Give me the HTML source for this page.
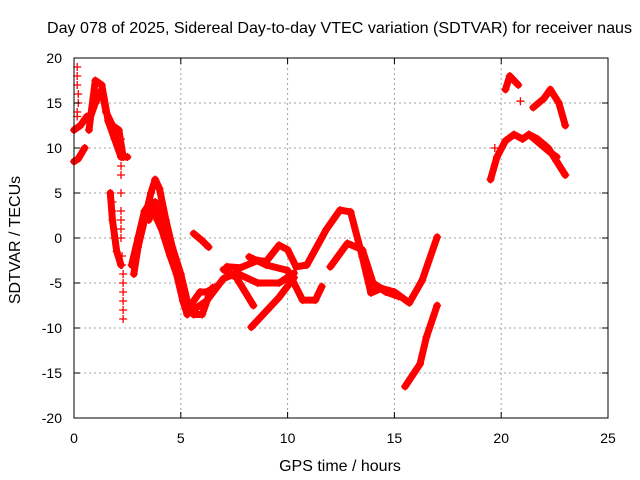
<!DOCTYPE html>
<html><head><meta charset="utf-8"><style>
body{margin:0;background:#fff;}
svg{display:block;font-family:"Liberation Sans",sans-serif;}
</style></head><body>
<svg id="c" width="640" height="480">
<rect width="640" height="480" fill="#fff"/>
<g id="grid"></g>
<g id="marks"></g>
<rect x="74" y="58" width="534" height="360" fill="none" stroke="#000" stroke-width="1"/>
<g id="ticks"></g>
<text x="47" y="33" font-size="16" textLength="585" lengthAdjust="spacingAndGlyphs">Day 078 of 2025, Sidereal Day-to-day VTEC variation (SDTVAR) for receiver naus</text>
<text x="340" y="471" font-size="16" text-anchor="middle">GPS time / hours</text>
<text transform="translate(20,240) rotate(-90)" font-size="16" text-anchor="middle">SDTVAR / TECUs</text>
</svg>
<script>
const xTicks=[0,5,10,15,20,25];
const yTicks=[-20,-15,-10,-5,0,5,10,15,20];
const track1=[[0,8.5],[0.2,8.8],[0.5,10]];
const track2=[[0,12],[0.3,12.5],[0.6,13.5]];
const track3=[[0.7,12],[1.0,17.5],[1.3,17],[1.6,13],[1.9,11],[2.2,9],[2.5,9]];
const track4=[[0.7,13],[1.0,15],[1.3,16.5],[1.5,14],[1.8,12.5],[2.1,12],[2.3,9]];
const track5=[[1.7,5],[1.8,2],[2.0,-1.5],[2.2,-3]];
const track6=[[2.8,-4],[3.0,-1],[3.3,2],[3.6,5],[3.8,6.5],[4.0,5.5],[4.3,2],[4.6,-1],[5.0,-4],[5.3,-7],[5.6,-8.5],[6.0,-8.5],[6.3,-6.5],[6.5,-5.5]];
const track7=[[3.5,2],[3.8,4],[4.1,1],[4.5,-2],[4.8,-4],[5.1,-7],[5.3,-8.5],[5.6,-7],[5.9,-6],[6.2,-6],[6.6,-5.5]];
const track8=[[2.7,-3],[3.0,0],[3.3,3],[3.6,4],[3.9,2],[4.3,0],[4.7,-3]];
const track9=[[5.6,0.5],[6.0,-0.3],[6.3,-1]];
const track10=[[7.16,-3.2],[7.8,-3.3],[8.6,-2.5],[9.0,-2.6],[9.6,-0.8],[10.0,-1.3],[10.4,-3.2],[10.9,-3],[11.8,0.9],[12.45,3.1],[12.95,2.9],[13.5,-2.1],[13.9,-6.1],[14.4,-5.6],[15.0,-6],[15.7,-7.2],[16.3,-4.7],[17,0.1]];
const track11=[[8.2,-2.1],[9.0,-3],[10,-3.6],[10.7,-6.9],[11.3,-6.9],[11.6,-5.4]];
const track12=[[5.4,-8.3],[6.2,-7],[7.0,-4.5],[7.6,-3.9],[8.6,-5],[9.6,-5],[10.3,-3.9]];
const track13=[[7.0,-3.5],[7.6,-4.4],[8.4,-7.5]];
const track14=[[8.3,-9.9],[9.6,-6.6],[10.3,-4.4]];
const track15=[[12,-3.2],[12.8,-0.6],[13.5,-1.3],[14,-5],[14.6,-6],[15.2,-6.5]];
const track16=[[15.5,-16.5],[16.2,-14],[16.5,-11],[17,-7.5]];
const track17=[[19.5,6.5],[19.8,9],[20.2,10.8],[20.6,11.5],[21,11],[21.3,11.5],[21.7,11],[22.2,10],[22.6,8.5],[23,7]];
const track18=[[20.2,16.5],[20.4,18],[20.8,17]];
const track19=[[21.5,14.5],[22,15.5],[22.3,16.5],[22.7,15],[23,12.5]];
const track20=[[21.3,11.5],[21.8,10.5],[22.3,9.5],[22.6,9]];
const sparse=[[0.15,19],[0.15,18],[0.15,17],[0.2,16],[0.2,15],[0.15,14],[0.15,13.5],[2.2,11],[2.2,8],[2.2,7],[2.2,5],[2.2,3],[2.2,2],[2.2,1],[2.2,0],[2.25,-2],[2.25,-3],[2.3,-4],[2.3,-5],[2.3,-6],[2.3,-7],[2.3,-8],[2.3,-9],[1.8,4],[1.8,3],[1.9,0],[20.9,15.2],[19.7,10]];
const tracks=[track1,track2,track3,track4,track5,track6,track7,track8,track9,track10,track11,track12,track13,track14,track15,track16,track17,track18,track19,track20];
const NS="http://www.w3.org/2000/svg";
function sx(h){return 74+(h-0)*534/25;}
function sy(v){return 238-v*9;}
function mk(tag,attrs,parent){const e=document.createElementNS(NS,tag);for(const k in attrs)e.setAttribute(k,attrs[k]);parent.appendChild(e);return e;}
const grid=document.getElementById('grid'),ticks=document.getElementById('ticks'),marks=document.getElementById('marks');
xTicks.forEach(t=>{const x=sx(t);
 if(t>0&&t<25){const g=mk('line',{x1:x,y1:58,x2:x,y2:418,stroke:'#a0a0a0','stroke-dasharray':'2,3'},grid);}
 const l=mk('text',{x:x,y:443,'font-size':14,'text-anchor':'middle'},ticks);l.textContent=t;
 
 
 mk('line',{x1:x,y1:418,x2:x,y2:412,stroke:'#000'},ticks);mk('line',{x1:x,y1:58,x2:x,y2:64,stroke:'#000'},ticks);});
yTicks.forEach(t=>{const y=sy(t);
 if(t>-20&&t<20){const g=mk('line',{x1:74,y1:y,x2:608,y2:y,stroke:'#a0a0a0','stroke-dasharray':'2,3'},grid);}
 const l=mk('text',{x:62,y:y+5,'font-size':14,'text-anchor':'end'},ticks);l.textContent=t;
 
 
 mk('line',{x1:74,y1:y,x2:80,y2:y,stroke:'#000'},ticks);mk('line',{x1:608,y1:y,x2:602,y2:y,stroke:'#000'},ticks);});
function plus(h,v){const x=sx(h),y=sy(v);
 const p=mk('path',{d:`M${x-4},${y}H${x+4}M${x},${y-4}V${y+4}`,stroke:'#f00','stroke-width':1.3},marks);
 
 }
tracks.forEach(tr=>{
 const pl=mk('polyline',{points:tr.map(p=>sx(p[0])+','+sy(p[1])).join(' '),fill:'none',stroke:'#f00','stroke-width':7,'stroke-linejoin':'round','stroke-linecap':'round'},marks);
 
 
 tr.forEach(p=>plus(p[0],p[1]));});
sparse.forEach(p=>plus(p[0],p[1]));
</script>
</body></html>
